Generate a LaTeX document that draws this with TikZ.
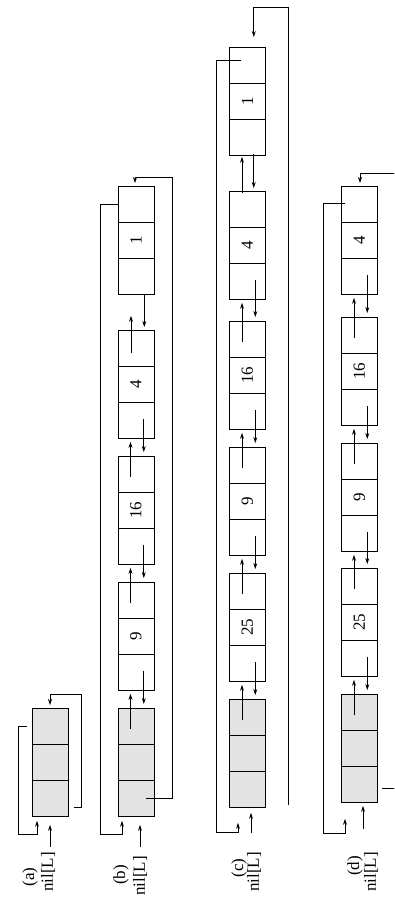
\documentclass[tikz,border=0pt]{standalone}
\usepackage{fontspec}
\setmainfont{Liberation Serif}
\usetikzlibrary{arrows.meta,calc}
\newcommand\mkbox[5]{%
  \node[#5] (#1) at (#2,#3) {};
  \draw[boxline] ($(#1.north west)+(0,36)$) -- ($(#1.north east)+(0,36)$)
                 ($(#1.north west)+(0,72)$) -- ($(#1.north east)+(0,72)$);
  \node[keytext] (#1k) at (#1.center) {#4};
}
\newcommand\mklink[2]{%
  \draw[ptr] ($(#2.north west)+(13,21)$) -- ($(#1.south west)+(13,3)$);
  \draw[ptr] ($(#1.south east)+(-10.5,-20)$) -- ($(#2.north east)+(-10.5,-4)$);
}
\begin{document}
\begin{tikzpicture}[x=1pt,y=-1pt,
  boxline/.style={line width=0.8pt},
  cellbox/.style={draw,boxline,minimum width=36pt,minimum height=108pt,inner sep=0pt,anchor=north west},
  sentbox/.style={cellbox,fill=black!11},
  keytext/.style={rotate=90,font=\fontsize{17}{17}\selectfont,inner sep=0pt},
  labtext/.style={rotate=90,font=\fontsize{17}{17}\selectfont,inner sep=0pt},
  wire/.style={line width=0.7pt},
  ptr/.style={wire,-{Stealth[length=6pt,width=4pt,inset=2pt]}},
]
\useasboundingbox (0,0) rectangle (394,897);
\clip (0,0) rectangle (394,897);

% ---------------- (a)
\mkbox{as}{32}{708}{}{sentbox}
\draw[ptr] ($(as.north west)+(-5,18)$) -- ++(-9,0) |- ($(as.south west)+(5,18)$) -- ($(as.south west)+(5,4)$);
\draw[ptr] ($(as.south east)+(5,-9)$) -- ++(8,0) |- ($(as.north west)+(18,-14)$) -- ($(as.north west)+(18,-3)$);
\coordinate (na) at (50,847);
\draw[ptr] (na) -- ($(as.south west)+(18,8)$);
\node[labtext] (la) at (30,877) {(a)};
\node[labtext] (nla) at (48,872) {nil[L]};

% ---------------- (b)
\mkbox{b1}{117.5}{186}{1}{cellbox}
\mkbox{b4}{117.5}{330}{4}{cellbox}
\mkbox{b16}{117.5}{456}{16}{cellbox}
\mkbox{b9}{117.5}{582}{9}{cellbox}
\mkbox{bs}{117.5}{708}{}{sentbox}
\draw[ptr] ($(b4.north west)+(13.5,23)$) -- ($(b1.south west)+(13.5,21)$);
\draw[ptr] ($(b1.south east)+(-10,0)$) -- ($(b4.north east)+(-10,-3)$);
\mklink{b4}{b16}
\mklink{b16}{b9}
\mklink{b9}{bs}
\draw[ptr] ($(b1.north west)+(0,18)$) -- ++(-17,0) |- ($(bs.south west)+(4.5,18)$) -- ($(bs.south west)+(4.5,4)$);
\draw[ptr] ($(bs.south east)+(-8,-18)$) -- ++(26,0) |- ($(b1.north west)+(17.5,-9)$) -- ($(b1.north west)+(17.5,-3)$);
\coordinate (nb) at (140,847);
\draw[ptr] (nb) -- ($(bs.south west)+(22.5,8)$);
\node[labtext] (lb) at (121,875) {(b)};
\node[labtext] (nlb) at (140,876) {nil[L]};

% ---------------- (c)
\mkbox{c1}{229}{47}{1}{cellbox}
\mkbox{c4}{229}{191}{4}{cellbox}
\mkbox{c16}{229}{321}{16}{cellbox}
\mkbox{c9}{229}{447}{9}{cellbox}
\mkbox{c25}{229}{573}{25}{cellbox}
\mkbox{cs}{229}{699}{}{sentbox}
\draw[ptr] ($(c4.north west)+(13,2)$) -- ($(c1.south west)+(13,1)$);
\draw[ptr] ($(c1.south east)+(-12,-2)$) -- ($(c4.north east)+(-12,-3)$);
\mklink{c4}{c16}
\mklink{c16}{c9}
\mklink{c9}{c25}
\mklink{c25}{cs}
\draw[ptr] ($(c1.north west)+(12,13.5)$) -- ++(-25,0) |- ($(cs.south west)+(9,25)$) -- ($(cs.south west)+(9,15)$);
\coordinate (cw) at (288,805);
\draw[ptr] (cw) -- (288,7) -| ($(c1.north east)+(-12,-10)$);
\coordinate (nc) at (251,833);
\draw[ptr] (nc) -- ($(cs.south west)+(22,5)$);
\node[labtext] (lc) at (239,868) {(c)};
\node[labtext] (nlc) at (254,872) {nil[L]};

% ---------------- (d)
\mkbox{d4}{341}{186}{4}{cellbox}
\mkbox{d16}{341}{317}{16}{cellbox}
\mkbox{d9}{341}{443}{9}{cellbox}
\mkbox{d25}{341}{568}{25}{cellbox}
\mkbox{ds}{341}{694}{}{sentbox}
\mklink{d4}{d16}
\mklink{d16}{d9}
\mklink{d9}{d25}
\mklink{d25}{ds}
\draw[ptr] ($(d4.north west)+(4,17)$) -- ++(-22,0) |- ($(ds.south west)+(4,31)$) -- ($(ds.south west)+(4,16)$);
\coordinate (dw) at (382,788);
\draw[ptr] (dw) -- (399,788) -- (399,173) -| ($(d4.north west)+(19,-3)$);
\coordinate (nd) at (363,829);
\draw[ptr] (nd) -- ($(ds.south west)+(22,3)$);
\node[labtext] (ld) at (355,866) {(d)};
\node[labtext] (nld) at (371,872) {nil[L]};
\end{tikzpicture}
\end{document}
